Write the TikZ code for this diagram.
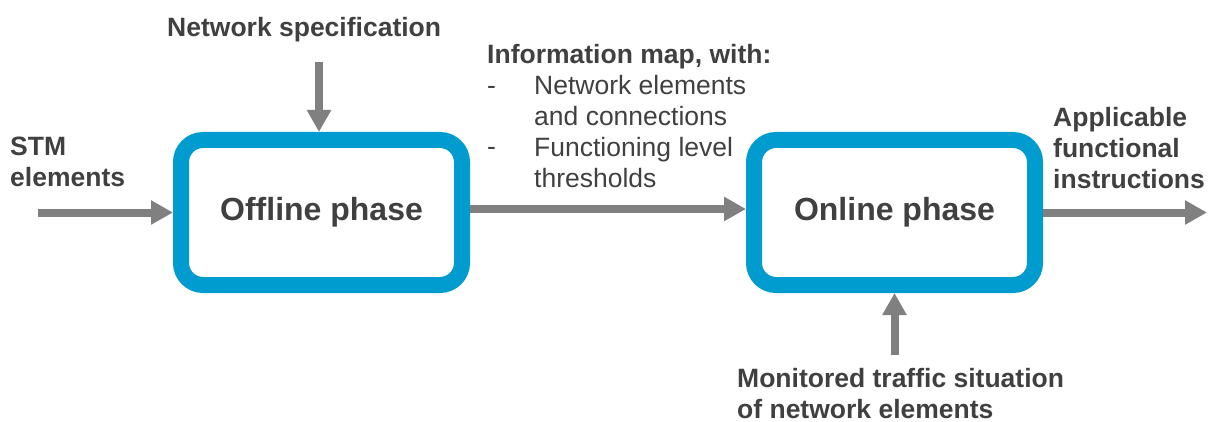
\documentclass[tikz,border=0pt]{standalone}
\usepackage{fontspec}
\setmainfont{Liberation Sans}
\usetikzlibrary{arrows.meta}
\definecolor{boxblue}{HTML}{009BCF}
\definecolor{arrowgray}{HTML}{808080}
\definecolor{textgray}{HTML}{404040}
\begin{document}
\begin{tikzpicture}[x=1pt,y=-1pt,
  phase/.style={draw=boxblue, line width=16pt, rounded corners=22pt, fill=white,
    minimum width=281pt, minimum height=145pt, inner sep=0pt, text=textgray,
    font=\fontsize{32}{38}\selectfont\bfseries},
  flow/.style={draw=arrowgray, line width=8pt, -{Triangle[length=22pt,width=23pt]}},
  lbl/.style={inner sep=0pt, text=textgray, align=left, anchor=base west,
    font=\fontsize{26.5}{30.7}\selectfont\bfseries},
  lblreg/.style={inner sep=0pt, text=textgray, align=left, anchor=base west,
    font=\fontsize{26.5}{30.7}\selectfont}
]
\useasboundingbox (0,0) rectangle (1214,422);
\node[phase] (off) at (321.5,212.5) {Offline phase};
\node[phase] (on) at (894.5,212.5) {Online phase};

% anchor = baseline of the last line of each label
\node[lbl] (ns) at (167,37) {Network specification};
\node[lbl] (stm) at (10,186) {STM\\elements};
\node[lbl] (info) at (487,64) {Information map, with:};
\node[lblreg] (d1) at (487,95) {-};
\node[lblreg] (i1) at (534,125.5) {Network elements\\and connections};
\node[lblreg] (d2) at (487,156) {-};
\node[lblreg] (i2) at (534,187) {Functioning level\\thresholds};
\node[lbl] (app) at (1053,188) {Applicable\\functional\\instructions};
\node[lbl] (mon) at (737,418.5) {Monitored traffic situation\\of network elements};

\coordinate (stmstart) at (38,212.5);
\coordinate (nsstart) at (319,62);
\coordinate (outend) at (1207,212.5);
\coordinate (monstart) at (894.5,355);

\draw[flow] (stmstart) -- (off.west);
\draw[flow] (nsstart) -- (nsstart |- off.north);
\draw[flow] ([yshift=3.5pt]off.east) -- ([yshift=3.5pt]on.west);
\draw[flow] (on.east) -- (outend);
\draw[flow] (monstart) -- (on.south);
\end{tikzpicture}
\end{document}
